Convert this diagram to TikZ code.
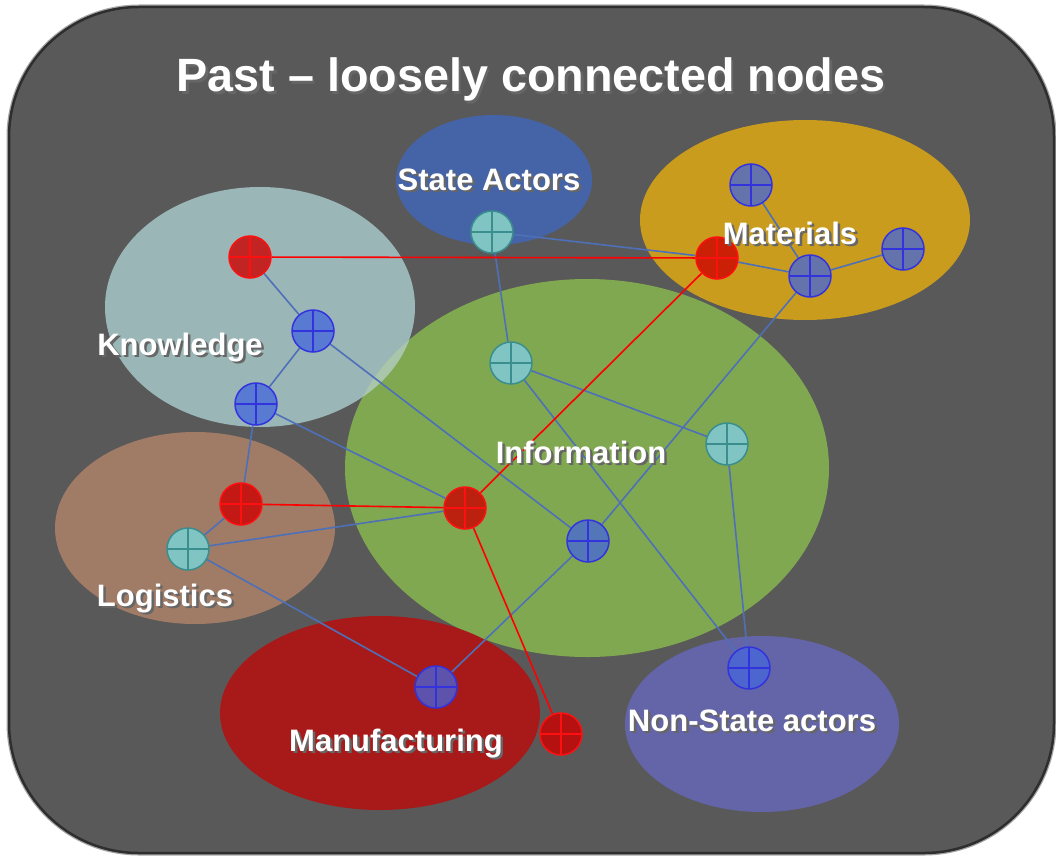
\documentclass[tikz,border=0pt]{standalone}
\usepackage{fontspec}
\setmainfont{Liberation Sans}
\definecolor{bgc}{HTML}{595959}
\definecolor{framec}{HTML}{2E2E2E}
\definecolor{statec}{HTML}{4564A8}
\definecolor{matc}{HTML}{C99C1E}
\definecolor{knowc}{HTML}{9BB6B6}
\definecolor{overc}{HTML}{A9C6AA}
\definecolor{infoc}{HTML}{80A850}
\definecolor{logc}{HTML}{A07B66}
\definecolor{manc}{HTML}{A81A1A}
\definecolor{nsc}{HTML}{6464A8}
\definecolor{edgec}{HTML}{4E70B8}
\definecolor{tealf}{HTML}{80C4C4}
\definecolor{teald}{HTML}{3B8E8E}
\definecolor{bluef}{HTML}{4466DD}
\definecolor{blued}{HTML}{3333DD}
\definecolor{redf}{HTML}{CC0000}
\definecolor{redd}{HTML}{FF1010}
\pgfdeclarelayer{back}
\pgfdeclarelayer{edges}
\pgfsetlayers{back,edges,main}
\newcommand\shd[1]{\makebox[0pt][l]{\hspace{2.5pt}\raisebox{-2.5pt}{\textcolor{black!60}{#1}}}#1}
\tikzset{
  hub/.style={circle, minimum size=42pt, inner sep=0pt, line width=1.5pt},
  cross/.style={path picture={\draw[line width=1.5pt,#1]
      (path picture bounding box.north) -- (path picture bounding box.south)
      (path picture bounding box.west) -- (path picture bounding box.east);}},
  tealnode/.style={hub, fill=tealf, draw=teald, cross=teald},
  bluenode/.style={hub, fill=bluef, fill opacity=0.75, draw=blued, cross=blued},
  rednode/.style={hub, fill=redf, fill opacity=0.8, draw=redd, cross=redd},
  link/.style={draw=edgec, line width=1.6pt},
  redlink/.style={draw=red, line width=1.6pt},
  lbl/.style={text=white, font=\bfseries\fontsize{31}{36}\selectfont, inner sep=0pt, anchor=base},
  ttl/.style={text=white, font=\bfseries\fontsize{46.7}{52}\selectfont, inner sep=0pt, anchor=base}
}
\begin{document}
\begin{tikzpicture}[x=1pt,y=-1pt]
\useasboundingbox (0,0) rectangle (1056,856);
\begin{pgfonlayer}{back}
\draw[line width=5pt, draw=gray!70, rounded corners=130pt] (9,7) rectangle (1054,853);
\draw[line width=2.5pt, draw=framec, fill=bgc, rounded corners=130pt] (9,7) rectangle (1054,853);
\fill[infoc] (587,468) ellipse [x radius=242pt, y radius=189pt];
\fill[knowc] (260,307) ellipse [x radius=155pt, y radius=120pt];
\begin{scope}
\clip (260,307) ellipse [x radius=155pt, y radius=120pt];
\fill[overc] (587,468) ellipse [x radius=242pt, y radius=189pt];
\end{scope}
\fill[statec] (494,180) ellipse [x radius=98pt, y radius=65pt];
\fill[matc] (805,220) ellipse [x radius=165pt, y radius=100pt];
\fill[logc] (195,528) ellipse [x radius=140pt, y radius=96pt];
\fill[manc] (380,713) ellipse [x radius=160pt, y radius=97pt];
\fill[nsc] (762,724) ellipse [x radius=137pt, y radius=88pt];
\end{pgfonlayer}

\node[tealnode] (T1) at (492,232) {};
\node[tealnode] (T2) at (511,363) {};
\node[tealnode] (T3) at (727,444) {};
\node[tealnode] (T4) at (188,549) {};
\node[bluenode] (B1) at (313,331) {};
\node[bluenode] (B2) at (256,404) {};
\node[bluenode] (B3) at (588,541) {};
\node[bluenode] (B4) at (436,687) {};
\node[bluenode] (B5) at (749,668) {};
\node[bluenode] (M1) at (751,185) {};
\node[bluenode] (M2) at (810,276) {};
\node[bluenode] (M3) at (903,249) {};
\node[rednode] (R1) at (250,257) {};
\node[rednode] (R2) at (717,258) {};
\node[rednode] (R3) at (241,504) {};
\node[rednode] (R4) at (465,508) {};
\node[rednode] (R5) at (561,734) {};

\begin{pgfonlayer}{edges}
\draw[link] (R1) -- (B1);
\draw[link] (B1) -- (B2);
\draw[link] (B1) -- (B3);
\draw[link] (B2) -- (R4);
\draw[link] (B2) -- (R3);
\draw[link] (R3) -- (T4);
\draw[link] (T4) -- (R4);
\draw[link] (T4) -- (B4);
\draw[link] (T1) -- (R2);
\draw[link] (R2) -- (M2);
\draw[link] (M1) -- (M2);
\draw[link] (M2) -- (M3);
\draw[link] (M2) -- (B3);
\draw[link] (T1) -- (T2);
\draw[link] (T2) -- (T3);
\draw[link] (T2) -- (B5);
\draw[link] (T3) -- (B5);
\draw[link] (B3) -- (B4);
\draw[redlink] (R1) -- (R2);
\draw[redlink] (R3) -- (R4);
\draw[redlink] (R4) -- (R2);
\draw[redlink] (R4) -- (R5);
\end{pgfonlayer}

\node[ttl] (title) at (531,92) {\shd{Past – loosely connected nodes}};
\node[lbl] (lstate) at (489,190) {\shd{State Actors}};
\node[lbl] (lmat) at (790,244) {\shd{Materials}};
\node[lbl] (lknow) at (180,355) {\shd{Knowledge}};
\node[lbl] (linfo) at (581,463) {\shd{Information}};
\node[lbl] (llog) at (165,606) {\shd{Logistics}};
\node[lbl] (lman) at (396,751) {\shd{Manufacturing}};
\node[lbl] (lns) at (752,731) {\shd{Non-State actors}};
\end{tikzpicture}
\end{document}
